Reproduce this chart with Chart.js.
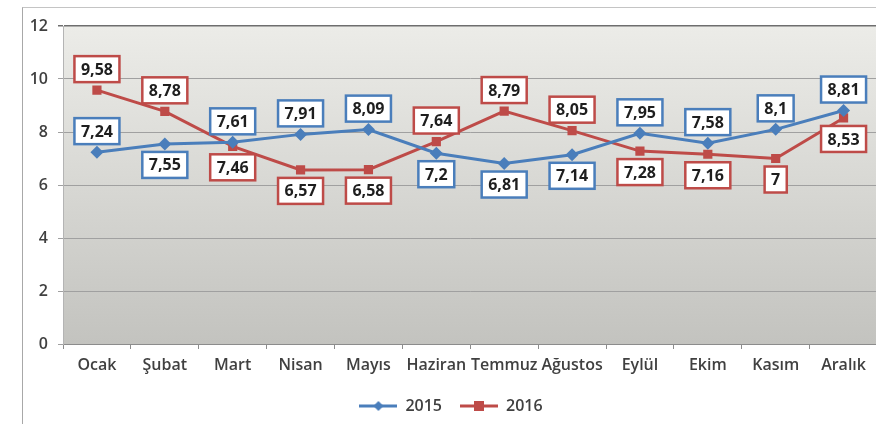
<!DOCTYPE html>
<html><head><meta charset="utf-8">
<script src="https://cdn.jsdelivr.net/npm/chart.js@4.4.0/dist/chart.umd.min.js"></script>
<style>
html,body{margin:0;padding:0;background:#fff;overflow:hidden;width:876px;height:424px}
#wrap{position:relative;width:884px;height:424px}
#frame{position:absolute;left:22px;top:7px;width:900px;height:500px;border-left:1px solid #a8a8a8;border-top:1px solid #c4c4c4}
canvas{position:absolute;left:0;top:0}
</style></head><body>
<div id="wrap"><div id="frame"></div><canvas id="c" width="884" height="424"></canvas></div>
<script>
const months = ['Ocak','Şubat','Mart','Nisan','Mayıs','Haziran','Temmuz','Ağustos','Eylül','Ekim','Kasım','Aralık'];
const values2015 = [7.24,7.55,7.61,7.91,8.09,7.2,6.81,7.14,7.95,7.58,8.1,8.81];
const values2016 = [9.58,8.78,7.46,6.57,6.58,7.64,8.79,8.05,7.28,7.16,7,8.53];
const labelSide2015 = ['up','down','up','up','up','down','down','down','up','up','up','up'];
const labelSide2016 = ['up','up','down','down','down','up','up','up','down','down','down','down'];
const yTicks = [0,2,4,6,8,10,12];

const BLUE = '#4a7ebb', RED = '#be4b48';
const FONT = "'Open Sans', sans-serif";

function legendIcon(color, style){
  const c = document.createElement('canvas');
  c.width = 38; c.height = 14;
  const x = c.getContext('2d');
  x.strokeStyle = color; x.lineWidth = 3;
  x.beginPath(); x.moveTo(0,7); x.lineTo(38,7); x.stroke();
  x.fillStyle = color;
  if (style === 'diamond') {
    x.beginPath(); x.moveTo(19,2); x.lineTo(24,7); x.lineTo(19,12); x.lineTo(14,7); x.closePath(); x.fill();
  } else {
    x.fillRect(14,2,10,10);
  }
  return c;
}
const icons = [legendIcon(BLUE,'diamond'), legendIcon(RED,'square')];

const bgPlugin = {
  id: 'bg',
  beforeDraw(chart){
    const {ctx, chartArea:a} = chart;
    const g = ctx.createLinearGradient(0, a.top, 0, a.bottom);
    g.addColorStop(0, '#ececE8');
    g.addColorStop(1, '#c3c3bf');
    ctx.save(); ctx.fillStyle = g; ctx.fillRect(a.left, a.top, a.right - a.left, a.bottom - a.top); ctx.restore();
  }
};

const labelPlugin = {
  id: 'boxLabels',
  afterDatasetsDraw(chart){
    const ctx = chart.ctx;
    const sides = [labelSide2015, labelSide2016];
    ctx.save();
    ctx.font = "bold 16px " + FONT;
    ctx.textAlign = 'center'; ctx.textBaseline = 'middle';
    chart.data.datasets.forEach((ds, di) => {
      const meta = chart.getDatasetMeta(di);
      meta.data.forEach((pt, i) => {
        const txt = String(ds.data[i]).replace('.', ',');
        const w = ctx.measureText(txt).width + 13;
        const h = 26;
        const cy = pt.y + (sides[di][i] === 'up' ? -21 : 21);
        const cx = pt.x;
        ctx.fillStyle = '#ffffff';
        ctx.fillRect(cx - w/2, cy - h/2, w, h);
        ctx.strokeStyle = ds.borderColor; ctx.lineWidth = 2.5;
        ctx.strokeRect(cx - w/2, cy - h/2, w, h);
        ctx.fillStyle = '#1e1e1e';
        ctx.fillText(txt, cx, cy + 1);
      });
    });
    ctx.restore();
  }
};

new Chart(document.getElementById('c'), {
  type: 'line',
  data: {
    labels: months,
    datasets: [
      {label:'2015', data: values2015, borderColor: BLUE, backgroundColor: BLUE, borderWidth: 3,
       pointStyle: 'rectRot', pointRadius: 6.5, pointBackgroundColor: BLUE, pointBorderWidth: 0, tension: 0},
      {label:'2016', data: values2016, borderColor: RED, backgroundColor: RED, borderWidth: 3,
       pointStyle: 'rect', pointRadius: 6.5, pointBackgroundColor: RED, pointBorderWidth: 0, tension: 0}
    ]
  },
  options: {
    responsive: false,
    animation: false,
    layout: { padding: { left: 22, top: 26, right: 4, bottom: 0 } },
    plugins: {
      tooltip: { enabled: false },
      legend: {
        position: 'bottom',
        labels: {
          usePointStyle: true,
          pointStyleWidth: 38,
          padding: 18,
          color: '#404040',
          font: { family: FONT, size: 16, weight: '600' },
          generateLabels(chart){
            return chart.data.datasets.map((ds, i) => ({
              text: ds.label, pointStyle: icons[i], datasetIndex: i,
              fillStyle: ds.borderColor, strokeStyle: ds.borderColor, lineWidth: 0, fontColor: '#404040'
            }));
          }
        }
      }
    },
    scales: {
      x: {
        offset: true,
        grid: { display: true, drawOnChartArea: false, offset: true, tickLength: 5, color: '#8c8c8c' },
        border: { color: '#8c8c8c' },
        ticks: { color: '#404040', padding: 7, font: { family: FONT, size: 16, weight: '600' }, maxRotation: 0, autoSkip: false },
        afterFit(s){ s.height = 36; }
      },
      y: {
        min: 0, max: 12,
        afterBuildTicks(s){ s.ticks = yTicks.map(v => ({value: v})); },
        grid: {
          color: (c) => (c.tick && c.tick.value === 12) ? '#6e6e6e' : '#a0a0a0',
          lineWidth: (c) => (c.tick && c.tick.value === 12) ? 1.5 : 1,
          tickLength: 5
        },
        border: { color: '#b4b4b4' },
        ticks: { color: '#404040', padding: 10, font: { family: FONT, size: 16, weight: '600' } },
        afterFit(s){ s.width = 41; }
      }
    }
  },
  plugins: [bgPlugin, labelPlugin]
});
</script>
</body></html>
